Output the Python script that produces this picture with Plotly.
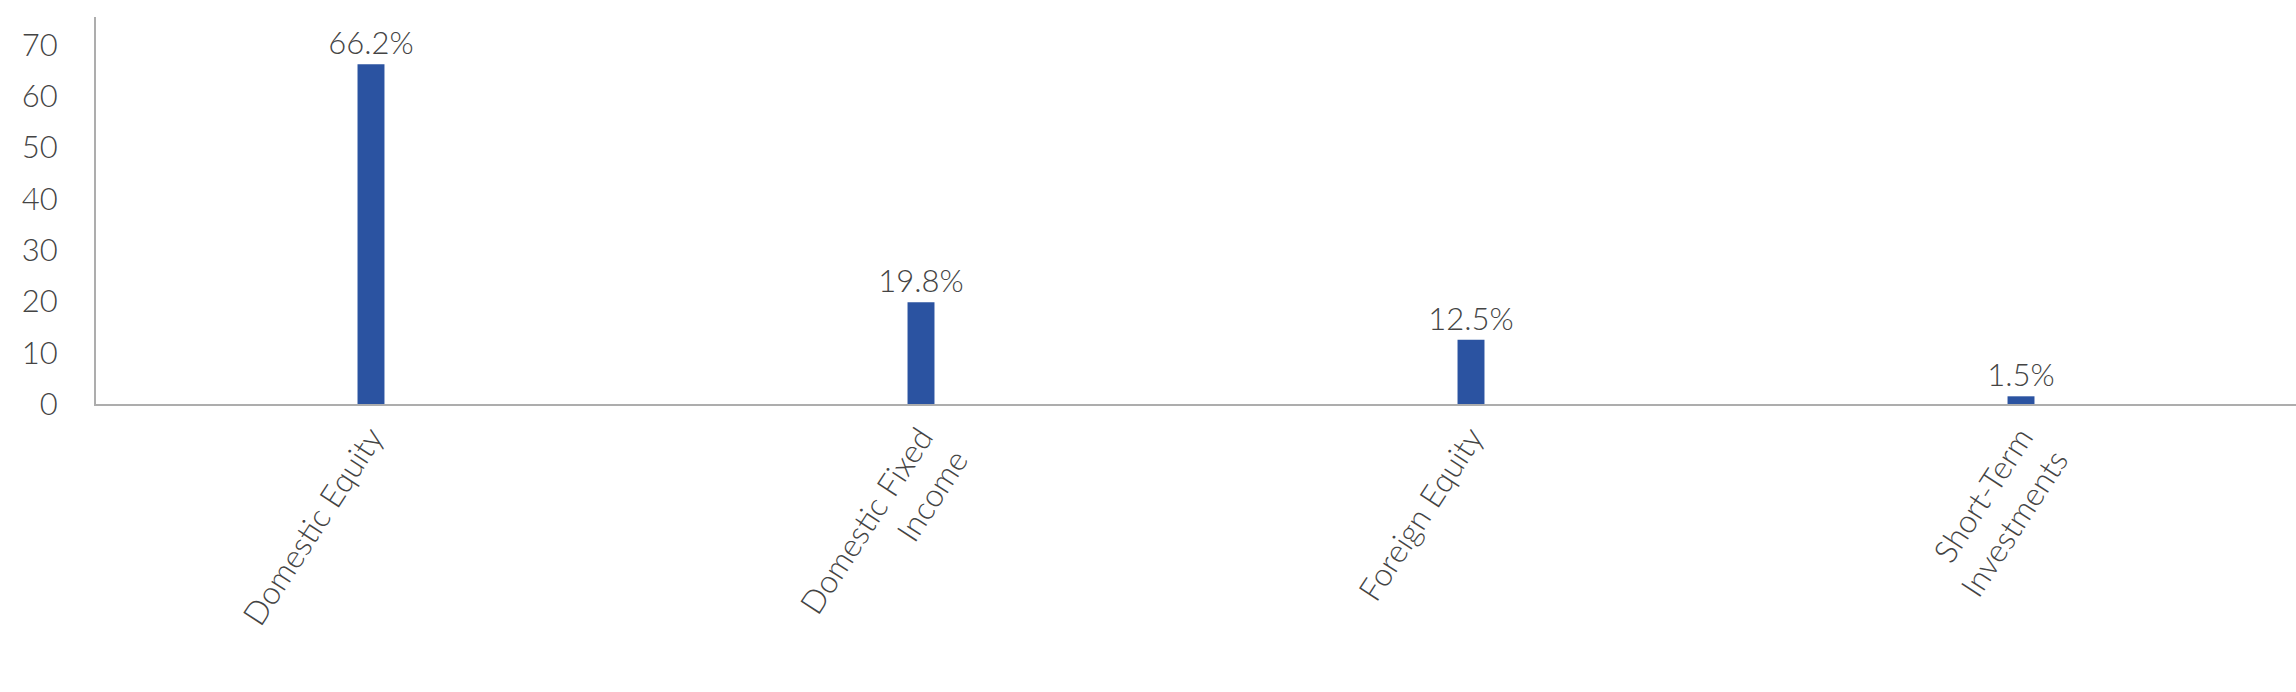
import plotly.graph_objects as go

categories = ["Domestic Equity", "Domestic Fixed<br>Income", "Foreign Equity", "Short-Term<br>Investments"]
values = [66.2, 19.8, 12.5, 1.5]
labels = ["66.2%", "19.8%", "12.5%", "1.5%"]
y_ticks = [0, 10, 20, 30, 40, 50, 60, 70]

font_family = "Lato"
text_color = "#444444"
axis_color = "#ADADAD"

fig = go.Figure(
    go.Bar(
        x=categories,
        y=values,
        text=labels,
        textposition="outside",
        constraintext="none",
        cliponaxis=False,
        marker=dict(color="#2B53A1", line=dict(width=0)),
        textfont=dict(family=font_family, size=31, color=text_color, weight=300),
        outsidetextfont=dict(family=font_family, size=31, color=text_color, weight=300),
        width=0.049,
    )
)

fig.update_layout(
    width=2296,
    height=692,
    margin=dict(l=96, r=0, t=17, b=288, autoexpand=False),
    plot_bgcolor="white",
    paper_bgcolor="white",
    showlegend=False,
    font=dict(family=font_family, size=30, color=text_color, weight=300),
)

fig.update_xaxes(
    showline=True,
    linecolor=axis_color,
    linewidth=2,
    showgrid=False,
    ticks="",
    tickangle=-57,
    automargin=False,
    tickfont=dict(family=font_family, size=32, color=text_color, weight=300),
    range=[-0.5, 3.5],
)

fig.update_yaxes(
    showline=True,
    linecolor=axis_color,
    linewidth=2,
    showgrid=False,
    zeroline=False,
    automargin=False,
    range=[0, 75.4],
    tickvals=y_ticks,
    ticks="",
    ticklabelstandoff=30,
    tickfont=dict(family=font_family, size=31, color=text_color, weight=300),
)

fig.write_html(
    "out.html",
    config={"displayModeBar": False},
    post_script="document.body.style.margin='0';document.body.style.overflow='hidden';",
)
